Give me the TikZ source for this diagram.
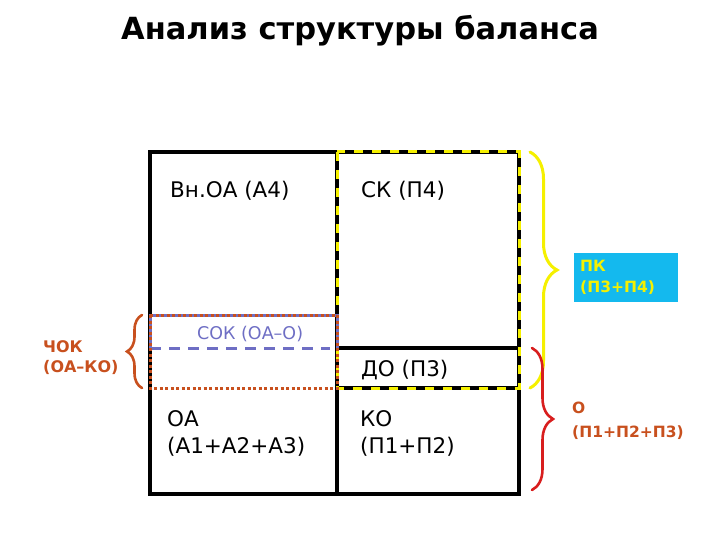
\documentclass[tikz,border=0pt]{standalone}
\usepackage{fontspec}
\setmainfont{DejaVu Sans}
\usetikzlibrary{decorations.pathreplacing}
\definecolor{chok}{HTML}{C8501E}
\definecolor{sok}{HTML}{6E6EC4}
\definecolor{pkfill}{HTML}{14B9EE}
\definecolor{pkyel}{HTML}{F5F000}
\definecolor{ored}{HTML}{D81E1E}

\begin{document}
\begin{tikzpicture}[x=1pt,y=-1pt,
  cell/.style={anchor=base west,align=left,inner sep=0pt,font=\fontsize{21.5}{27}\selectfont},
  side/.style={anchor=base west,align=left,inner sep=0pt,font=\bfseries\fontsize{15.5}{20}\selectfont},
  brc/.style={decorate,line width=2.6pt,line cap=round}]
\useasboundingbox (0,0) rectangle (720,540);
\node[font=\bfseries\fontsize{30.5}{36}\selectfont,anchor=base] (title) at (360,40) {Анализ структуры баланса};
% frame
\coordinate (tl) at (150,152); \coordinate (tm) at (337,152); \coordinate (tr) at (519,152);
\coordinate (bl) at (150,494); \coordinate (bm) at (337,494); \coordinate (br) at (519,494);
\coordinate (ml) at (150,388); \coordinate (mm) at (337,388); \coordinate (mr) at (519,388);
\coordinate (dm) at (337,348); \coordinate (dr) at (519,348);
\coordinate (sl) at (150,315); \coordinate (sm) at (337,315);
\coordinate (pl) at (150,348); \coordinate (pe) at (330,348);
\draw[line width=4.5pt] (tl) rectangle (br);
\draw[line width=4.5pt] (tm) -- (bm);
\draw[line width=4.5pt] (mm) -- (mr);
\draw[line width=3.5pt] (dm) -- (dr);
% PK: yellow dashes
\draw[pkyel,line width=3pt,dash pattern=on 9pt off 9pt] (tm) rectangle (mr);
% SOK
\draw[sok,line width=3pt] (pl) -- (sl) -- (sm) -- (dm);
\draw[sok,line width=3pt,dash pattern=on 11pt off 8pt] (pl) -- (pe);
% CHOK
\draw[chok,line width=3pt,dash pattern=on 3pt off 2.5pt] (sl) rectangle (mm);
% cells
\node[cell] (vnoa) at (170,198) {Вн.ОА (А4)};
\node[cell] (sk) at (361,198) {СК (П4)};
\node[cell] (do) at (361,376) {ДО (П3)};
\node[cell] (oa) at (167,453) {ОА\\(А1+А2+А3)};
\node[cell] (ko) at (360,453) {КО\\(П1+П2)};
\node[side,sok,font=\fontsize{17.5}{20}\selectfont] (sokt) at (197,339) {СОК (ОА–О)};
% braces
\coordinate (lb1) at (142,388); \coordinate (lb2) at (142,315);
\draw[brc,chok,decoration={brace,amplitude=15pt}] (lb1) -- (lb2);
\node[side,chok,font=\bfseries\fontsize{16}{20}\selectfont] (chokt) at (43,372) {ЧОК\\(ОА–КО)};
\coordinate (yb1) at (530,152); \coordinate (yb2) at (530,388);
\draw[brc,pkyel,line width=3pt,decoration={brace,amplitude=27pt}] (yb1) -- (yb2);
\node[side,fill=pkfill,text=pkyel,font=\bfseries\fontsize{15.5}{21}\selectfont,anchor=north west,minimum width=104pt,minimum height=49pt,inner sep=6pt,text width=92pt] (pk) at (574,253) {ПК\\(П3+П4)};
\coordinate (rb1) at (532,348); \coordinate (rb2) at (532,490);
\draw[brc,ored,decoration={brace,amplitude=21pt}] (rb1) -- (rb2);
\node[side,chok,font=\bfseries\fontsize{15.5}{24}\selectfont] (ot) at (572,437) {О\\(П1+П2+П3)};
\end{tikzpicture}
\end{document}
